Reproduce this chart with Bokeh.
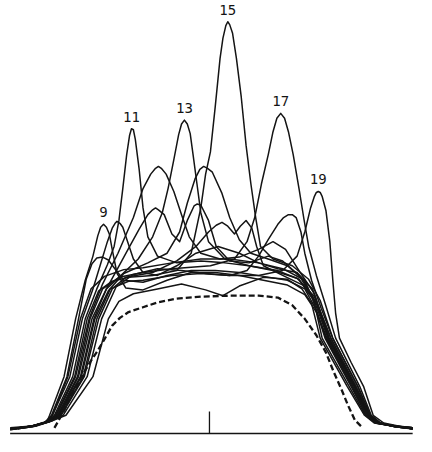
from bokeh.plotting import figure
from bokeh.models import Range1d
from bokeh.embed import file_html
from bokeh.resources import INLINE
from bokeh.core.properties import value

# ---- data: sample position along the slit, relative intensity (height) ----
c9_x = [12,35,50,53,68,80,90,98,103,106,109,112,115,118,123,132,150,175,200,225,250,275,300,318,330,341,368,383,393,412,430]
c9_y = [6,8,12,19,59,119,159,184,205,214,217,214,207,191,166,151,149,159,167,167,164,159,154,144,126,99,49,19,11,8,6]

c10_x = [12,35,48,56,74,87,98,106,113,118,121,123,126,129,134,140,150,165,185,205,228,250,270,290,310,326,343,370,384,394,412,430]
c10_y = [5,8,12,19,59,119,150,176,199,213,218,220,218,214,199,181,167,164,174,187,194,187,177,171,167,150,99,49,19,11,7,5]

c11_x = [14,35,50,58,77,90,102,113,120,125,129,133,136,138,140,142,146,150,155,165,185,210,235,260,285,310,328,345,371,385,395,412,430]
c11_y = [5,8,12,19,59,119,150,175,194,221,254,289,309,316,315,305,274,234,204,184,177,179,177,174,169,161,142,99,49,19,11,8,5]

c12_x = [14,35,50,60,80,94,108,124,140,150,158,163,166,169,174,182,190,198,210,230,250,270,285,298,312,328,343,370,384,394,412,430]
c12_y = [5,8,12,19,59,119,155,187,224,254,269,275,277,275,269,251,227,204,187,181,183,191,199,191,169,145,99,49,19,11,8,5]

c13_x = [20,38,52,62,83,97,112,125,145,160,170,176,182,187,190,193,196,199,202,206,210,218,235,260,290,312,326,339,366,382,392,412,430]
c13_y = [5,8,13,19,59,119,150,162,181,204,229,254,284,310,321,325,321,311,289,259,229,199,181,174,169,160,140,99,49,19,11,7,5]

c14_x = [16,36,52,63,86,100,114,130,155,175,188,196,204,209,213,217,222,232,240,250,262,280,300,316,330,343,370,384,394,412,430]
c14_y = [5,8,12,19,59,119,148,166,177,187,209,239,264,274,277,275,271,249,224,201,187,181,174,160,135,99,49,19,11,8,5]

c15_x = [12,30,50,59,79,92,104,118,135,160,185,200,210,215,220,225,230,233,236,238,240,243,247,252,257,262,267,272,285,305,322,334,347,373,386,396,412,428]
c15_y = [4,7,12,19,59,119,148,158,162,164,169,187,234,269,292,339,389,410,423,427,424,415,389,349,299,259,224,194,181,174,160,138,99,49,19,11,7,5]

c16_x = [14,36,50,65,89,104,118,132,160,185,205,218,226,232,238,245,251,257,263,268,275,295,316,331,345,371,385,395,412,430]
c16_y = [5,8,12,19,59,119,150,162,167,179,194,209,216,219,215,207,215,221,213,194,174,164,154,134,99,49,19,11,7,5]

c17_x = [15,35,48,61,82,95,108,125,150,180,220,245,258,266,273,280,285,289,293,297,301,306,312,317,322,330,340,350,375,387,397,415,430]
c17_y = [5,8,11,19,59,119,150,162,167,171,174,181,199,224,259,289,313,327,332,327,313,289,254,223,194,164,132,99,49,19,11,7,6]

c18_x = [16,36,52,67,92,107,122,140,165,190,215,240,258,270,280,290,296,301,305,309,314,318,325,335,347,373,386,396,412,430]
c18_y = [5,8,12,19,59,119,152,165,171,169,166,164,169,184,201,217,224,227,227,224,209,187,159,130,99,49,19,11,7,5]

c19_x = [18,38,55,64,88,102,116,135,150,180,210,240,270,295,310,318,324,328,330,332,334,336,340,344,347,350,354,366,379,389,400,415,430]
c19_y = [5,8,13,19,59,119,150,158,159,164,166,164,164,169,184,209,234,246,250,251,250,246,231,199,160,125,99,74,49,19,11,8,6]

c20_x = [15,36,50,62,85,99,112,123,135,146,155,160,163,166,172,180,188,196,203,206,210,218,226,240,260,280,295,312,327,342,369,384,394,412,430]
c20_y = [5,8,12,19,59,119,150,170,192,212,227,232,234,232,227,207,199,221,236,238,237,221,194,179,177,184,179,164,140,99,49,19,11,8,5]

c1_x = [20,40,55,70,98,114,125,140,165,190,215,233,250,275,300,315,325,334,362,380,390,410,430]
c1_y = [5,8,13,19,59,119,137,145,150,155,149,143,153,162,160,150,135,99,49,19,11,8,5]

c2_x = [12,35,48,56,72,85,96,110,130,150,180,210,240,270,295,318,328,336,364,381,391,410,430]
c2_y = [4,7,11,19,59,119,150,163,170,172,177,181,181,177,171,159,135,99,49,19,11,8,6]

c3_x = [12,35,48,55,71,83,91,97,102,108,114,120,130,150,175,200,225,250,275,300,318,330,340,367,382,392,410,430]
c3_y = [5,8,11,19,59,119,160,176,182,183,180,172,159,157,164,169,169,167,163,159,150,128,99,49,19,11,8,6]

dashed_x = [58,66,75,85,95,103,110,118,126,135,150,165,185,210,240,270,290,305,318,330,340,348,356,363,370,378]
dashed_y = [6,20,38,57,74,86,98,112,120,126,131,136,140,142,143,143,141,133,119,102,84,64,46,29,14,6]

labelled = [("9", c9_x, c9_y), ("11", c11_x, c11_y), ("13", c13_x, c13_y),
            ("15", c15_x, c15_y), ("17", c17_x, c17_y), ("19", c19_x, c19_y)]
unlabelled = [(c10_x, c10_y), (c12_x, c12_y), (c14_x, c14_y), (c16_x, c16_y),
              (c18_x, c18_y), (c20_x, c20_y), (c1_x, c1_y), (c2_x, c2_y), (c3_x, c3_y)]

center_mark_x = 219
center_mark_height = 23

# ---- figure ----
p = figure(width=416, height=436, output_backend="svg", toolbar_location=None,
           x_range=Range1d(2, 434), y_range=Range1d(-3, 449), min_border=0)
p.axis.visible = False
p.grid.visible = False
p.outline_line_color = None
p.background_fill_color = "white"
p.border_fill_color = "white"

ink = "#141414"
for xs, ys in unlabelled:
    p.line(xs, ys, line_color=ink, line_width=1.5, line_join="round")
for lab, xs, ys in labelled:
    p.line(xs, ys, line_color=ink, line_width=1.5, line_join="round")

p.line(dashed_x, dashed_y, line_color=ink, line_width=2.3, line_dash="6 3")

# labels above each labelled curve's peak
lx, ly, lt = [], [], []
for lab, xs, ys in labelled:
    i = max(range(len(ys)), key=lambda k: ys[k])
    lx.append(xs[i])
    ly.append(ys[i] + 12.5)
    lt.append(lab)
p.text(x=lx, y=ly, text=lt, text_font=value("DejaVu Sans Mono"), text_font_size="14px",
       text_align="center", text_baseline="middle", text_color=ink)

# baseline and centre mark
all_x = [x for _, xs, _ in labelled for x in xs] + [x for xs, _ in unlabelled for x in xs]
p.line([min(all_x), max(all_x)], [0, 0], line_color=ink, line_width=1.5)
p.segment(x0=[center_mark_x], y0=[0], x1=[center_mark_x], y1=[center_mark_height],
          line_color=ink, line_width=1.3)

open("out.html", "w").write(file_html(p, INLINE))
